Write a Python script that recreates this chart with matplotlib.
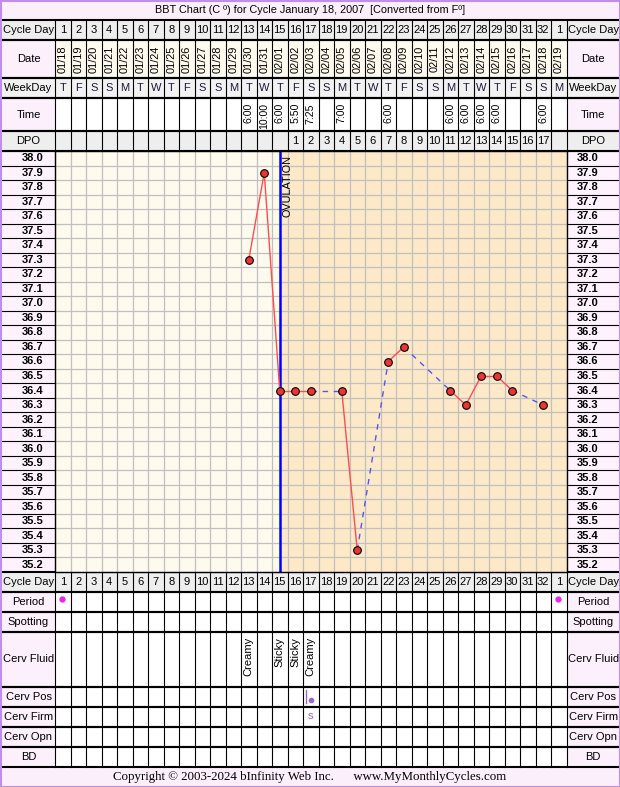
import numpy as np
import matplotlib
matplotlib.use('Agg')
import matplotlib.pyplot as plt
from matplotlib.patches import Rectangle

plt.rcParams['font.family'] = ['Liberation Sans', 'DejaVu Sans']

# ---- data ----
cycle_days = [str(d) for d in range(1, 33)] + ['1']
dates = ['01/18', '01/19', '01/20', '01/21', '01/22', '01/23', '01/24', '01/25',
         '01/26', '01/27', '01/28', '01/29', '01/30', '01/31', '02/01', '02/02',
         '02/03', '02/04', '02/05', '02/06', '02/07', '02/08', '02/09', '02/10',
         '02/11', '02/12', '02/13', '02/14', '02/15', '02/16', '02/17', '02/18', '02/19']
weekdays = list('TFSSMTWTFSSMTWTFSSMTWTFSSMTWTFSSM')
time_days = [13, 14, 15, 16, 17, 19, 22, 26, 27, 28, 29, 32]
times = ['6:00', '10:00', '6:00', '5:50', '7:25', '7:00', '6:00', '6:00', '6:00',
         '6:00', '6:00', '6:00']
dpo_days = list(range(16, 33))
dpo_vals = list(range(1, 18))
temp_days = [13, 14, 15, 16, 17, 19, 20, 22, 23, 26, 27, 28, 29, 30, 32]
temps = [37.3, 37.9, 36.4, 36.4, 36.4, 36.4, 35.3, 36.6, 36.7, 36.4, 36.3, 36.5,
         36.5, 36.4, 36.3]
temp_ticks = [round(38.0 - 0.1 * i, 1) for i in range(29)]
ovulation_day = 15
period_days = [1, 33]
fluid_days = [13, 15, 16, 17]
fluid = ['Creamy', 'Sticky', 'Sticky', 'Creamy']
cerv_pos_days = [17]
cerv_firm_days = [17]
cerv_firm = ['s']

W, H = 620, 787
n = len(cycle_days)
x0, cw = 55, 15.5
x1 = x0 + n * cw
ch_top, ch_bot = 151, 572
fs = 8.0

fig = plt.figure(figsize=(W / 100, H / 100), dpi=100)
bg = fig.add_axes([0, 0, 1, 1])
bg.set_xlim(0, W)
bg.set_ylim(H, 0)
bg.axis('off')

pink = '#fcf0fc'
gray = '#eeeeee'
purple = '#c08ee6'


def cx(d):
    return x0 + (d - 0.5) * cw


def rect(x, y, w, h, fc):
    bg.add_patch(Rectangle((x, y), w, h, facecolor=fc, edgecolor='none', zorder=0))


# title / footer bands
rect(0, 0, W, 20, '#fbeffb')
rect(0, 767, W, 20, '#fbeffb')
bg.text(W / 2, 10, 'BBT Chart (C º) for Cycle January 18, 2007  [Converted from Fº]',
        ha='center', va='center', fontsize=7.8)
bg.text(W / 2, 777, 'Copyright © 2003-2024 bInfinity Web Inc.      www.MyMonthlyCycles.com',
        ha='center', va='center', fontsize=9.3, family=['Liberation Serif', 'DejaVu Serif'])

top_rows = [(20, 40, 'Cycle Day', gray, gray), (40, 78, 'Date', '#fffaee', pink),
            (78, 98, 'WeekDay', '#f2f2f2', '#f2f2f2'), (98, 131, 'Time', 'white', pink),
            (131, 151, 'DPO', gray, gray)]
bot_rows = [(572, 592, 'Cycle Day', gray, gray), (592, 612, 'Period', 'white', pink),
            (612, 632, 'Spotting', 'white', pink), (632, 687, 'Cerv Fluid', 'white', pink),
            (687, 707, 'Cerv Pos', 'white', pink), (707, 727, 'Cerv Firm', 'white', pink),
            (727, 747, 'Cerv Opn', 'white', pink), (747, 767, 'BD', 'white', pink)]

for (ya, yb, label, dc, lc) in top_rows + bot_rows:
    rect(x0, ya, x1 - x0, yb - ya, dc)
    rect(0, ya, x0, yb - ya, lc)
    rect(x1, ya, W - x1, yb - ya, lc)
    bg.text(x0 / 2 + 1, (ya + yb) / 2, label, ha='center', va='center', fontsize=fs)
    bg.text((x1 + W) / 2, (ya + yb) / 2, label, ha='center', va='center', fontsize=fs)
    bg.plot([0, W], [ya, ya], color='black', lw=1.5, zorder=3)
    bg.plot([0, W], [yb, yb], color='black', lw=1.5, zorder=3)
    for i in range(n + 1):
        bg.plot([x0 + i * cw] * 2, [ya, yb], color='black', lw=0.8, zorder=3)

# temperature label columns
step = (ch_bot - ch_top) / len(temp_ticks)
rect(0, ch_top, x0, ch_bot - ch_top, '#fdf2fd')
rect(x1, ch_top, W - x1, ch_bot - ch_top, '#fdf2fd')
for i, t in enumerate(temp_ticks):
    yc = ch_top + (i + 0.5) * step
    bg.text(x0 / 2 + 5, yc, f'{t:.1f}', ha='center', va='center', fontsize=8.0,
            fontweight='bold')
    bg.text((x1 + W) / 2 - 6, yc, f'{t:.1f}', ha='center', va='center', fontsize=8.0,
            fontweight='bold')
    yl = ch_top + i * step
    bg.plot([0, x0], [yl, yl], color='black', lw=0.8, zorder=3)
    bg.plot([x1, W], [yl, yl], color='black', lw=0.8, zorder=3)

# header texts
for i in range(n):
    d = i + 1
    bg.text(cx(d), 30, cycle_days[i], ha='center', va='center', fontsize=fs)
    bg.text(cx(d), 582, cycle_days[i], ha='center', va='center', fontsize=fs)
    bg.text(cx(d), 59, dates[i], ha='center', va='center', rotation=90, fontsize=7.9)
    bg.text(cx(d), 88, weekdays[i], ha='center', va='center', fontsize=fs,
            color='#1a1a3a')
for d, t in zip(time_days, times):
    bg.text(cx(d), 103, t, ha='center', va='top', rotation=90, fontsize=7.6)
for d, v in zip(dpo_days, dpo_vals):
    bg.text(cx(d), 141, str(v), ha='center', va='center', fontsize=fs)

# bottom rows
for d in period_days:
    bg.plot(cx(d) - 1, 599, 'o', color='#ee22ee', ms=3.5, zorder=4)
for d, f in zip(fluid_days, fluid):
    bg.text(cx(d), 637, f, ha='center', va='top', rotation=90, fontsize=8.0)
for d in cerv_pos_days:
    bg.plot([cx(d) - 4.5] * 2, [690, 703], color='#9966cc', lw=1, zorder=4)
    bg.plot(cx(d) + 0.5, 700, 'o', color='#9966cc', ms=3, zorder=4)
for d, f in zip(cerv_firm_days, cerv_firm):
    bg.text(cx(d), 716, f, ha='center', va='center', fontsize=8, color='#9966cc')

# outer border
bg.add_patch(Rectangle((0.5, 0.5), W - 1, H - 1, fill=False, edgecolor=purple, lw=1.5,
                       zorder=5))

# ---- temperature chart ----
ax = fig.add_axes([x0 / W, 1 - ch_bot / H, (x1 - x0) / W, (ch_bot - ch_top) / H])
ax.set_xlim(0.5, n + 0.5)
ax.set_ylim(temp_ticks[-1] - 0.05, temp_ticks[0] + 0.05)
ax.axvspan(0.5, ovulation_day, color='#fffaee', zorder=0, lw=0)
ax.axvspan(ovulation_day, n + 0.5, color='#fde9c8', zorder=0, lw=0)
ax.set_xticks(np.arange(0.5, n + 1, 1))
ax.set_yticks(np.arange(temp_ticks[-1] - 0.05, temp_ticks[0] + 0.1, 0.1))
ax.grid(True, color='#c0c0c0', lw=0.9)
ax.set_axisbelow(True)
ax.tick_params(length=0, labelbottom=False, labelleft=False)
for s in ax.spines.values():
    s.set_color('black')
    s.set_linewidth(1)

ax.axvline(ovulation_day, color='#0000ff', lw=1.8, zorder=2)
ax.text(ovulation_day + 0.2, temp_ticks[0] + 0.02, 'OVULATION', rotation=90,
        ha='left', va='top', fontsize=7.8)

for k in range(len(temp_days) - 1):
    xa, xb = temp_days[k], temp_days[k + 1]
    if xb - xa == 1:
        ax.plot([xa, xb], [temps[k], temps[k + 1]], color='#ff4d4d', lw=1, zorder=3)
    else:
        ax.plot([xa, xb], [temps[k], temps[k + 1]], color='#5555ee', lw=1,
                ls=(0, (4, 4)), zorder=3)
ax.plot(temp_days, temps, 'o', ls='none', mfc='#ee3333', mec='black', mew=0.8, ms=5.5,
        zorder=4)

fig.savefig('out.png', dpi=100)
